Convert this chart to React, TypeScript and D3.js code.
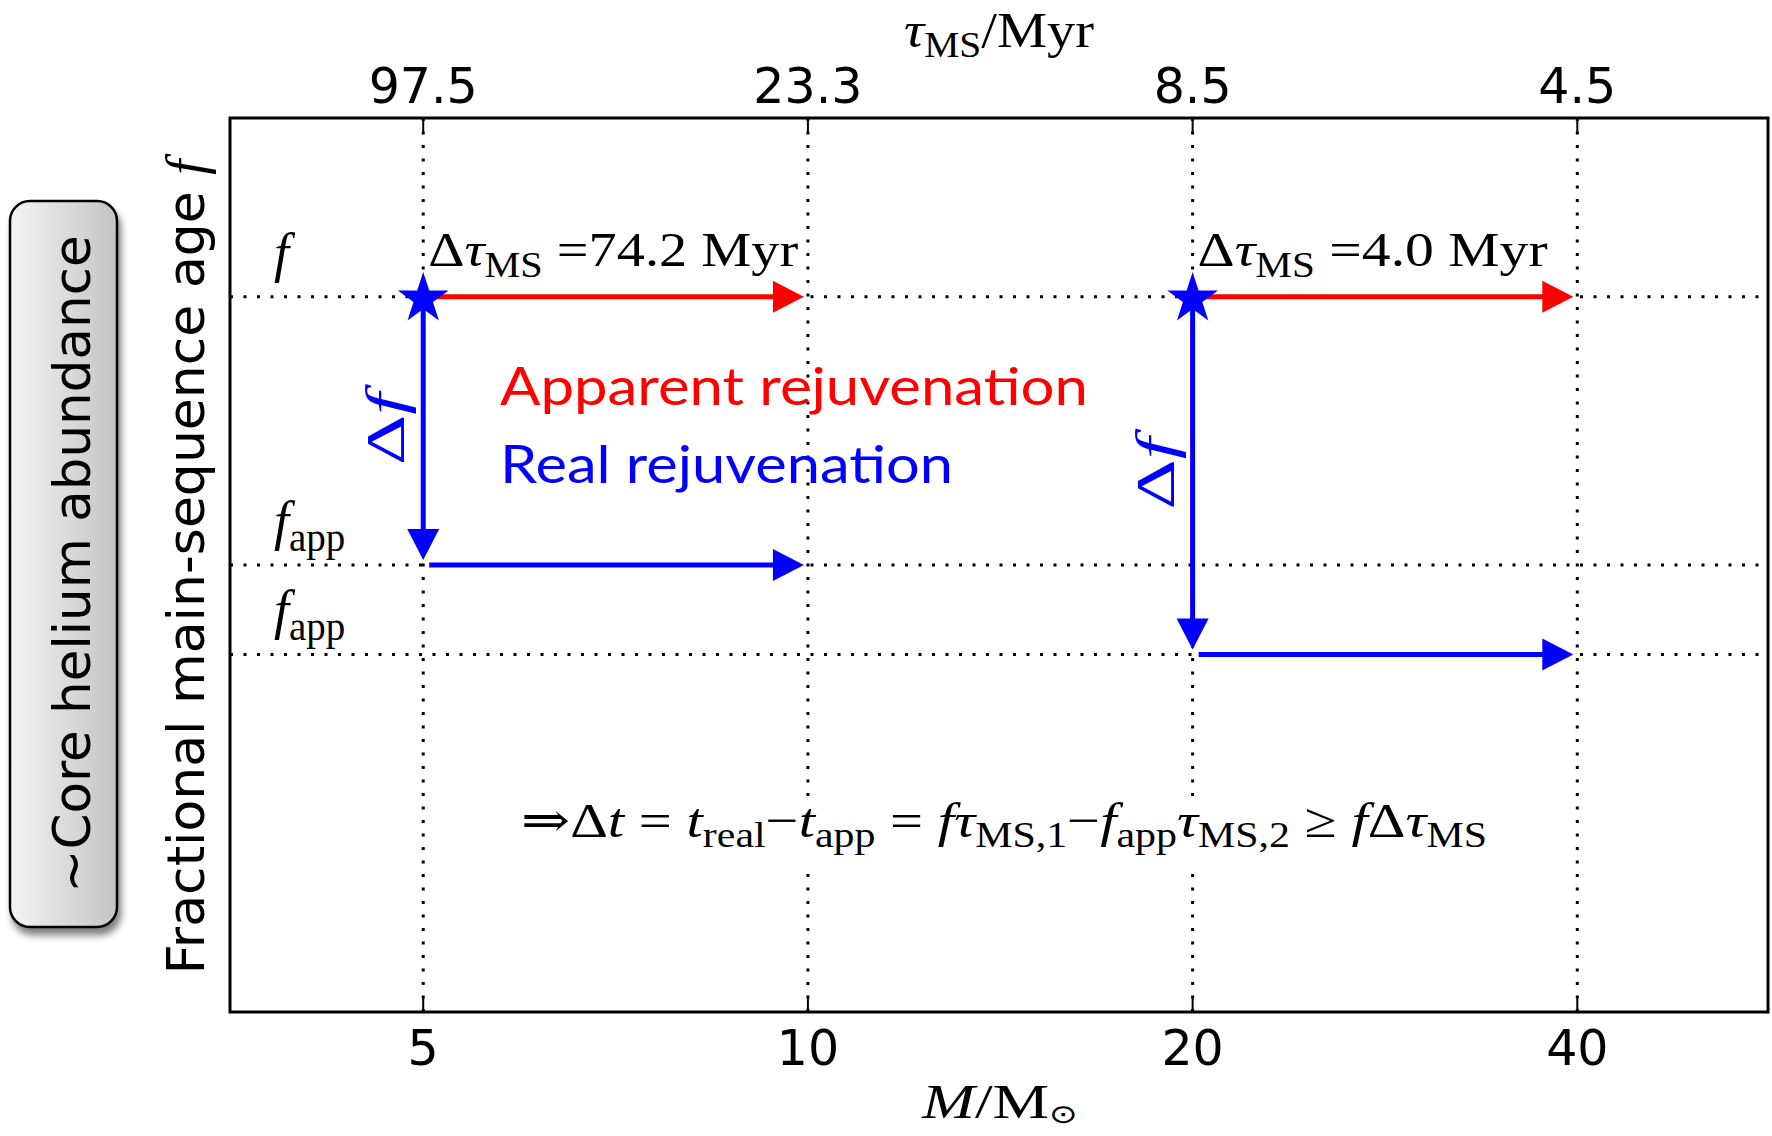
import * as d3 from "d3";

// axis ticks: stellar mass and the matching main-sequence lifetime
const massTicks = [5, 10, 20, 40];
const tauLabels = ["97.5", "23.3", "8.5", "4.5"];
// fractional ages marked with dotted lines
const fLevels = [0.8, 0.5, 0.4];
const fLabelSubs = ["", "app", "app"];
// apparent rejuvenation (red) and real rejuvenation (blue)
const apparentFrom = [5, 20];
const apparentTo = [10, 40];
const fStart = [0.8, 0.8];
const fApp = [0.5, 0.4];
const dTau = ["74.2", "4.0"];

const W = 1772,
  H = 1136;
const margin = { top: 118, right: 4, bottom: 124, left: 230 };

const serif = "'Liberation Serif', 'DejaVu Serif', serif";
const sans = "'DejaVu Sans', sans-serif";

const RED = "#ff0000";
const BLUE = "#0000ff";

function Arrow({ x0, y0, x1, y1, color }) {
  const len = Math.hypot(x1 - x0, y1 - y0);
  const ux = (x1 - x0) / len,
    uy = (y1 - y0) / len;
  const headL = 31,
    headW = 16;
  const bx = x1 - ux * headL,
    by = y1 - uy * headL;
  const px = -uy,
    py = ux;
  const head = [
    [x1, y1],
    [bx + px * headW, by + py * headW],
    [bx - px * headW, by - py * headW],
  ];
  return (
    <g>
      <line x1={x0} y1={y0} x2={bx + ux * 2} y2={by + uy * 2} stroke={color} strokeWidth={5} />
      <path d={d3.line()(head) + "Z"} fill={color} />
    </g>
  );
}

export default function App() {
  const x = d3
    .scaleLog()
    .domain([3.53, 56.4])
    .range([margin.left, W - margin.right]);
  const y = d3
    .scaleLinear()
    .domain([0, 1])
    .range([H - margin.bottom, margin.top]);
  const [x0, x1] = x.range();
  const [yb, yt] = y.range();
  const star = d3.symbol().type(d3.symbolStar).size(800)();

  return (
    <div style={{ position: "absolute", left: 0, top: 0 }}>
      <svg width={W} height={H} style={{ display: "block", background: "#fff" }}>
        <defs>
          <linearGradient id="boxGrad" x1="0" x2="1" y1="0" y2="0">
            <stop offset="0" stopColor="#f4f4f4" />
            <stop offset="1" stopColor="#c4c4c4" />
          </linearGradient>
          <filter id="shadow" x="-20%" y="-5%" width="140%" height="115%">
            <feDropShadow dx="3" dy="7" stdDeviation="3.5" floodColor="#000" floodOpacity="0.5" />
          </filter>
        </defs>

        {/* rounded side box */}
        <rect x={10} y={201} width={107} height={726} rx={20} fill="url(#boxGrad)" stroke="#000" strokeWidth={2.5} filter="url(#shadow)" />
        <text transform="translate(90,564) rotate(-90)" textAnchor="middle" fontFamily={sans} fontSize={51.5} fill="#000">
          ~Core helium abundance
        </text>

        {/* y label */}
        <text transform="translate(204,567) rotate(-90)" textAnchor="middle" fontFamily={sans} fontSize={52} fill="#000">
          Fractional main-sequence age{" "}
          <tspan fontFamily={serif} fontStyle="italic" fontSize={54}>f</tspan>
        </text>

        {/* grid */}
        <g stroke="#000" strokeWidth={3} strokeDasharray="3,10.5">
          {massTicks.map((m) => (
            <line key={"v" + m} x1={x(m)} x2={x(m)} y1={yt} y2={yb} />
          ))}
          {fLevels.map((f) => (
            <line key={"h" + f} x1={x0} x2={x1} y1={y(f)} y2={y(f)} />
          ))}
        </g>

        {/* ticks */}
        <g stroke="#000" strokeWidth={2}>
          {massTicks.map((m) => (
            <g key={"t" + m}>
              <line x1={x(m)} x2={x(m)} y1={yb} y2={yb - 15} />
              <line x1={x(m)} x2={x(m)} y1={yt} y2={yt + 15} />
            </g>
          ))}
        </g>

        {/* formula with white box */}
        <rect x={508} y={796} width={992} height={76} fill="#fff" />
        <text x={521} y={837} fontFamily={serif} fontSize={49} fill="#000" textLength={966} lengthAdjust="spacingAndGlyphs">
          ⇒Δ<tspan fontStyle="italic">t</tspan> = <tspan fontStyle="italic">t</tspan>
          <tspan fontSize={35} dy={10}>real</tspan>
          <tspan dy={-10}>−</tspan>
          <tspan fontStyle="italic">t</tspan>
          <tspan fontSize={35} dy={10}>app</tspan>
          <tspan dy={-10}> = </tspan>
          <tspan fontStyle="italic">fτ</tspan>
          <tspan fontSize={35} dy={10}>MS,1</tspan>
          <tspan dy={-10}>−</tspan>
          <tspan fontStyle="italic">f</tspan>
          <tspan fontSize={35} dy={10}>app</tspan>
          <tspan dy={-10} fontStyle="italic">τ</tspan>
          <tspan fontSize={35} dy={10}>MS,2</tspan>
          <tspan dy={-10}> ≥ </tspan>
          <tspan fontStyle="italic">f</tspan>Δ<tspan fontStyle="italic">τ</tspan>
          <tspan fontSize={35} dy={10}>MS</tspan>
        </text>

        {/* f labels */}
        {fLevels.map((f, i) => (
          <text key={"fl" + i} x={x0 + 44} y={y(f) - 26} fontFamily={serif} fontSize={54} fill="#000">
            <tspan fontStyle="italic">f</tspan>
            {fLabelSubs[i] && (
              <tspan fontSize={39} dy={12}>
                {fLabelSubs[i]}
              </tspan>
            )}
          </text>
        ))}

        {/* arrows */}
        {apparentFrom.map((m, i) => (
          <g key={"a" + i}>
            <Arrow x0={x(m)} y0={y(fStart[i])} x1={x(apparentTo[i]) - 4} y1={y(fStart[i])} color={RED} />
            <Arrow x0={x(m)} y0={y(fStart[i])} x1={x(m)} y1={y(fApp[i]) - 5} color={BLUE} />
            <Arrow x0={x(m) + 6} y0={y(fApp[i])} x1={x(apparentTo[i]) - 4} y1={y(fApp[i])} color={BLUE} />
            <path d={star} transform={`translate(${x(m)},${y(fStart[i]) + 2})`} fill={BLUE} />
            <text
              x={x(m) + 5}
              y={y(fStart[i]) - 31}
              fontFamily={serif}
              fontSize={49}
              fill="#000"
              textLength={i === 0 ? 370 : 350}
              lengthAdjust="spacingAndGlyphs"
            >
              Δ<tspan fontStyle="italic">τ</tspan>
              <tspan fontSize={35} dy={11}>MS</tspan>
              <tspan dy={-11}> ={dTau[i]} Myr</tspan>
            </text>
            <text
              transform={`translate(${x(m) - 19},${(y(fStart[i]) + y(fApp[i])) / 2 - 2}) rotate(-90)`}
              textAnchor="middle"
              fontFamily={serif}
              fontSize={54}
              fill={BLUE}
              textLength={72}
              lengthAdjust="spacingAndGlyphs"
            >
              Δ<tspan fontStyle="italic">f</tspan>
            </text>
          </g>
        ))}

        {/* legend texts */}
        <text x={500} y={405} fontFamily="Lato, 'Open Sans', sans-serif" fontSize={53} fill={RED} textLength={588} lengthAdjust="spacingAndGlyphs">
          Apparent rejuvenation
        </text>
        <text x={500} y={483} fontFamily="Lato, 'Open Sans', sans-serif" fontSize={53} fill={BLUE} textLength={453} lengthAdjust="spacingAndGlyphs">
          Real rejuvenation
        </text>

        {/* frame */}
        <rect x={x0} y={yt} width={x1 - x0} height={yb - yt} fill="none" stroke="#000" strokeWidth={3} />

        {/* tick labels */}
        {massTicks.map((m, i) => (
          <g key={"tl" + m} fontFamily={sans} fontSize={49} fill="#000" textAnchor="middle">
            <text x={x(m)} y={yb + 53}>{m}</text>
            <text x={x(m)} y={yt - 15}>{tauLabels[i]}</text>
          </g>
        ))}

        {/* axis titles */}
        <text x={904} y={47} fontFamily={serif} fontSize={50} fill="#000" textLength={190} lengthAdjust="spacingAndGlyphs">
          <tspan fontStyle="italic">τ</tspan>
          <tspan fontSize={35} dy={10}>MS</tspan>
          <tspan dy={-10}>/Myr</tspan>
        </text>
        <text x={922} y={1118} fontFamily={serif} fontSize={48} fill="#000" textLength={156} lengthAdjust="spacingAndGlyphs">
          <tspan fontStyle="italic">M</tspan>/M
          <tspan fontFamily={sans} fontSize={26} dy={5}>⊙</tspan>
        </text>
      </svg>
    </div>
  );
}
